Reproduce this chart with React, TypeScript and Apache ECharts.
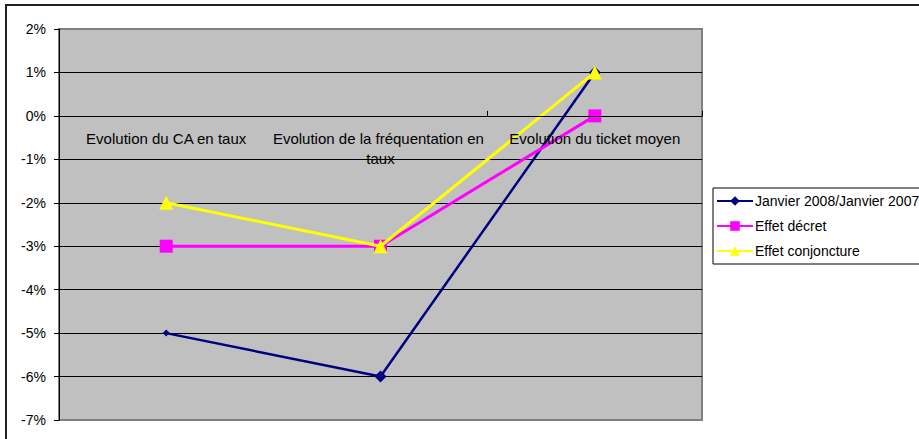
import React, { useEffect, useRef } from "react";
import * as echarts from "echarts";

const categories = [
  "Evolution du CA en taux",
  "Evolution de la fréquentation en taux",
  "Evolution du ticket moyen",
];
const seriesNames = ["Janvier 2008/Janvier 2007", "Effet décret", "Effet conjoncture"];
const janvierValues = [-5, -6, 1];
const decretValues = [-3, -3, 0];
const conjonctureValues = [-2, -3, 1];
const yMin = -7;
const yMax = 2;

const FONT = "'Liberation Sans', Arial, sans-serif";
const GRID_TOP = 29;
const GRID_H = 391;

export default function App() {
  const ref = useRef<HTMLDivElement>(null);
  useEffect(() => {
    if (!ref.current) return;
    const chart = echarts.init(ref.current, null, { renderer: "svg" });
    const splitColors: string[] = [];
    for (let v = yMin; v <= yMax; v++) {
      splitColors.push(v === yMin || v === yMax ? "#808080" : "#000000");
    }
    // distance from the grid's bottom to the 0 line
    const zeroOffset = -((0 - yMin) / (yMax - yMin)) * GRID_H;
    chart.setOption({
      animation: false,
      backgroundColor: "#ffffff",
      textStyle: { fontFamily: FONT },
      graphic: [
        {
          type: "rect",
          shape: { x: 6, y: 5, width: 1000, height: 1000 },
          style: { fill: "none", stroke: "#222", lineWidth: 2 },
          z: -1,
        },
      ],
      grid: {
        left: 59,
        top: GRID_TOP,
        width: 643,
        height: GRID_H,
        show: true,
        backgroundColor: "#C0C0C0",
        borderColor: "#808080",
        borderWidth: 2,
        containLabel: false,
        outerBoundsMode: "none",
      },
      legend: {
        orient: "vertical",
        left: 713,
        top: 188,
        data: seriesNames,
        itemWidth: 36,
        itemHeight: 12,
        itemGap: 11,
        padding: [6, 6, 6, 3],
        borderColor: "#000",
        borderWidth: 1,
        backgroundColor: "#fff",
        textStyle: { fontSize: 14, color: "#000", fontFamily: FONT, padding: [0, 0, 0, -3] },
      },
      xAxis: [
        {
          type: "category",
          data: categories,
          boundaryGap: true,
          z: 10,
          axisLine: { show: true, onZero: true, lineStyle: { color: "#000", width: 1 } },
          axisTick: { show: true, inside: true, length: 5, lineStyle: { color: "#000" } },
          axisLabel: { show: false },
          splitLine: { show: false },
        },
        {
          type: "category",
          data: categories,
          boundaryGap: true,
          position: "bottom",
          offset: zeroOffset,
          z: 10,
          axisLine: { show: false, onZero: false },
          axisTick: { show: false },
          axisLabel: {
            color: "#000",
            fontSize: 15,
            fontFamily: FONT,
            margin: 13,
            width: 226,
            overflow: "break",
            lineHeight: 20,
            interval: 0,
          },
          splitLine: { show: false },
        },
      ],
      yAxis: {
        type: "value",
        min: yMin,
        max: yMax,
        interval: 1,
        axisLine: { show: true, lineStyle: { color: "#000", width: 1 } },
        axisTick: { show: true, length: 5, lineStyle: { color: "#000" } },
        axisLabel: {
          color: "#000",
          fontSize: 14,
          fontFamily: FONT,
          margin: 13,
          formatter: (v: number) => `${v}%`,
        },
        splitLine: { show: true, lineStyle: { color: splitColors, width: 1 } },
      },
      series: [
        {
          name: seriesNames[0],
          type: "line",
          data: janvierValues,
          symbol: "diamond",
          symbolSize: (_v: number, p: any) => (p.dataIndex === 0 ? 7 : 12),
          lineStyle: { color: "#000080", width: 2.5 },
          itemStyle: { color: "#000080" },
          z: 2,
        },
        {
          name: seriesNames[1],
          type: "line",
          data: decretValues,
          symbol: "rect",
          symbolSize: 13,
          lineStyle: { color: "#FF00FF", width: 3 },
          itemStyle: { color: "#FF00FF" },
          z: 3,
        },
        {
          name: seriesNames[2],
          type: "line",
          data: conjonctureValues,
          symbol: "triangle",
          symbolSize: 14,
          lineStyle: { color: "#FFFF00", width: 3 },
          itemStyle: { color: "#FFFF00" },
          z: 4,
        },
      ],
    });
    return () => chart.dispose();
  }, []);
  return (
    <div
      ref={ref}
      style={{ position: "fixed", left: 0, top: 0, width: 919, height: 439 }}
    />
  );
}
